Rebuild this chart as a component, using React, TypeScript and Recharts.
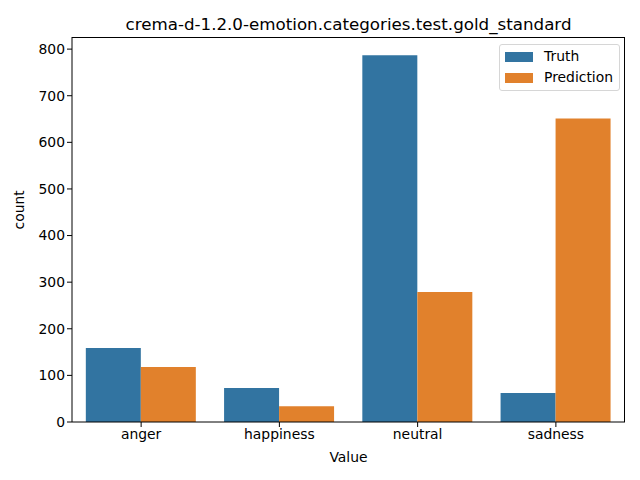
import React from 'react';
import { BarChart, Bar, XAxis, YAxis } from 'recharts';

const emotions = ['anger', 'happiness', 'neutral', 'sadness'];
const truthCounts = [159, 73, 787, 62];
const predictionCounts = [118, 34, 279, 651];
const countTicks = [0, 100, 200, 300, 400, 500, 600, 700, 800];

const TRUTH_COLOR = '#3274a1';
const PRED_COLOR = '#e1812c';
const FONT = '"DejaVu Sans", sans-serif';

const data = emotions.map((name, i) => ({
  name,
  Truth: truthCounts[i],
  Prediction: predictionCounts[i],
}));

const LegendBox = () => (
  <div
    style={{
      position: 'absolute',
      left: 499,
      top: 44,
      border: '1px solid #d6d6d6',
      borderRadius: 3,
      background: '#fff',
      padding: '1px 6px 2px 5px',
      fontFamily: FONT,
      fontSize: 13.9,
      color: '#000',
      lineHeight: '21px',
    }}
  >
    {[
      ['Truth', TRUTH_COLOR],
      ['Prediction', PRED_COLOR],
    ].map(([label, color]) => (
      <div key={label} style={{ display: 'flex', alignItems: 'center' }}>
        <span style={{ width: 28, height: 10, background: color, marginRight: 11 }} />
        <span>{label}</span>
      </div>
    ))}
  </div>
);

const App: React.FC = () => {
  return (
    <div style={{ position: 'absolute', left: 0, top: 0, width: 640, height: 480, background: '#fff', fontFamily: FONT }}>
      <div
        style={{
          position: 'absolute',
          left: 72,
          width: 553,
          top: 14,
          textAlign: 'center',
          fontSize: 16.7,
          color: '#000',
        }}
      >
        crema-d-1.2.0-emotion.categories.test.gold_standard
      </div>
      <BarChart
        width={640}
        height={480}
        data={data}
        margin={{ top: 37, right: 15, left: 0, bottom: 0 }}
        barCategoryGap="10%"
        barGap={0}
      >
        <XAxis
          dataKey="name"
          height={58}
          tick={{ fill: '#000', fontSize: 13.9, fontFamily: FONT }}
          tickLine={{ stroke: '#000' }}
          axisLine={{ stroke: '#000' }}
          tickSize={5}
          label={{ value: 'Value', position: 'insideBottom', offset: 18, fill: '#000', fontSize: 13.9, fontFamily: FONT }}
        />
        <YAxis
          width={72}
          domain={[0, 826]}
          ticks={countTicks}
          interval={0}
          tick={{ fill: '#000', fontSize: 13.9, fontFamily: FONT }}
          tickLine={{ stroke: '#000' }}
          axisLine={{ stroke: '#000' }}
          tickSize={5}
          label={{ value: 'count', angle: -90, position: 'insideLeft', offset: 19, fill: '#000', fontSize: 13.9, fontFamily: FONT }}
        />
        <Bar dataKey="Truth" fill={TRUTH_COLOR} isAnimationActive={false} />
        <Bar dataKey="Prediction" fill={PRED_COLOR} isAnimationActive={false} />
      </BarChart>
      {/* top and right spines */}
      <div
        style={{
          position: 'absolute',
          left: 72,
          top: 37,
          width: 553,
          height: 385,
          borderTop: '1px solid #000',
          borderRight: '1px solid #000',
          pointerEvents: 'none',
          boxSizing: 'border-box',
        }}
      />
      <LegendBox />
    </div>
  );
};

export default App;
